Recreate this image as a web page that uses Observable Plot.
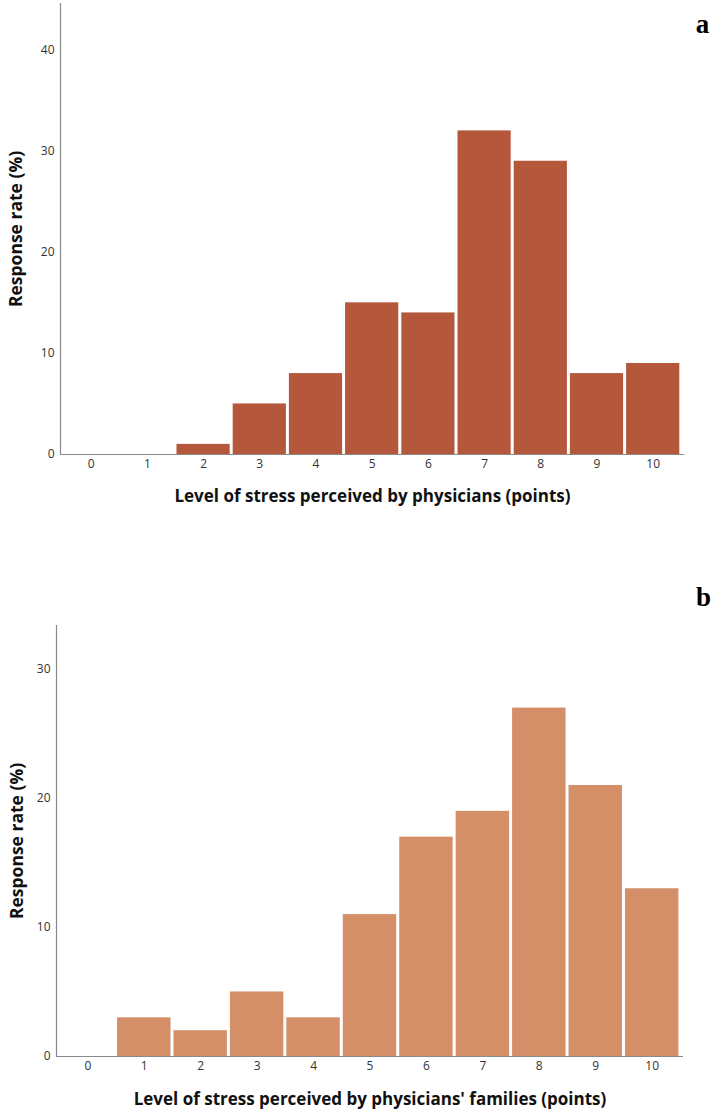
<!DOCTYPE html>
<html><head><meta charset="utf-8">
<script src="https://cdn.jsdelivr.net/npm/d3@7"></script>
<script src="https://cdn.jsdelivr.net/npm/@observablehq/plot@0.6"></script>
<style>body{margin:0;background:#fff} #c svg{display:block}</style>
</head><body><div id="c"></div><script>
const levels = [0,1,2,3,4,5,6,7,8,9,10];
const physicians = [0,0,1,5,8,15,14,32,29,8,9];
const families = [0,3,2,5,3,11,17,19,27,21,13];
const yTicksA = [0,10,20,30,40];
const yTicksB = [0,10,20,30];
const xTitleA = "Level of stress perceived by physicians (points)";
const xTitleB = "Level of stress perceived by physicians' families (points)";
const yTitle = "Response rate (%)";

function chart(o) {
  const data = levels.map((l, i) => ({level: l, value: o.values[i]}));
  return Plot.plot({
    width: 714, height: o.height,
    marginTop: o.marginTop, marginBottom: o.marginBottom,
    marginLeft: o.marginLeft, marginRight: o.marginRight,
    style: {fontFamily: "'Open Sans', sans-serif", background: "#fff"},
    x: {domain: o.xDomain, axis: null},
    y: {domain: [0, o.yMax], axis: null},
    marks: [
      Plot.rectY(data, {x1: d => d.level - 0.5, x2: d => d.level + 0.5, y: "value", fill: o.color, insetLeft: 1.5, insetRight: 1.5}),
      Plot.ruleY([0], {stroke: "#8a8a8a", strokeWidth: 1.2}),
      Plot.ruleX([o.xDomain[0]], {stroke: "#8a8a8a", strokeWidth: 1.2}),
      Plot.text(levels, {x: d => d, frameAnchor: "bottom", dy: 13, text: d => String(d), fontSize: 12, fill: "#333"}),
      Plot.text(o.yTicks, {y: d => d, frameAnchor: "left", dx: -6, textAnchor: "end", text: d => String(d), fontSize: 12, fill: "#333"}),
      Plot.text([yTitle], {frameAnchor: "left", dx: o.yTitleDx, rotate: -90, textAnchor: "middle", lineAnchor: "middle", fontWeight: "bold", fontSize: 17.5, fill: "#111"}),
      Plot.text([o.xTitle], {frameAnchor: "bottom", dy: o.xTitleDy, textAnchor: "middle", lineAnchor: "middle", fontWeight: "bold", fontSize: 17, fill: "#111"}),
      Plot.text([o.panel], {frameAnchor: "top-right", dx: o.panelDx, dy: o.panelDy, textAnchor: "middle", lineAnchor: "middle", fontWeight: "bold", fontSize: 27, fontFamily: "'Liberation Serif', 'Times New Roman', serif", fill: "#000"})
    ]
  });
}

const c = document.getElementById("c");
c.appendChild(chart({
  values: physicians, color: "#b5573a", yMax: 44.6, yTicks: yTicksA,
  height: 560, marginTop: 3, marginBottom: 106, marginLeft: 60, marginRight: 30,
  xDomain: [-0.546, 10.557], xTitle: xTitleA, xTitleDy: 42, yTitleDx: -44,
  panel: "a", panelDx: 18, panelDy: 21
}));
c.appendChild(chart({
  values: families, color: "#d48f69", yMax: 33.4, yTicks: yTicksB,
  height: 560, marginTop: 65, marginBottom: 64, marginLeft: 56, marginRight: 31,
  xDomain: [-0.555, 10.555], xTitle: xTitleB, xTitleDy: 43, yTitleDx: -39,
  panel: "b", panelDx: 20, panelDy: -28
}));
</script></body></html>
